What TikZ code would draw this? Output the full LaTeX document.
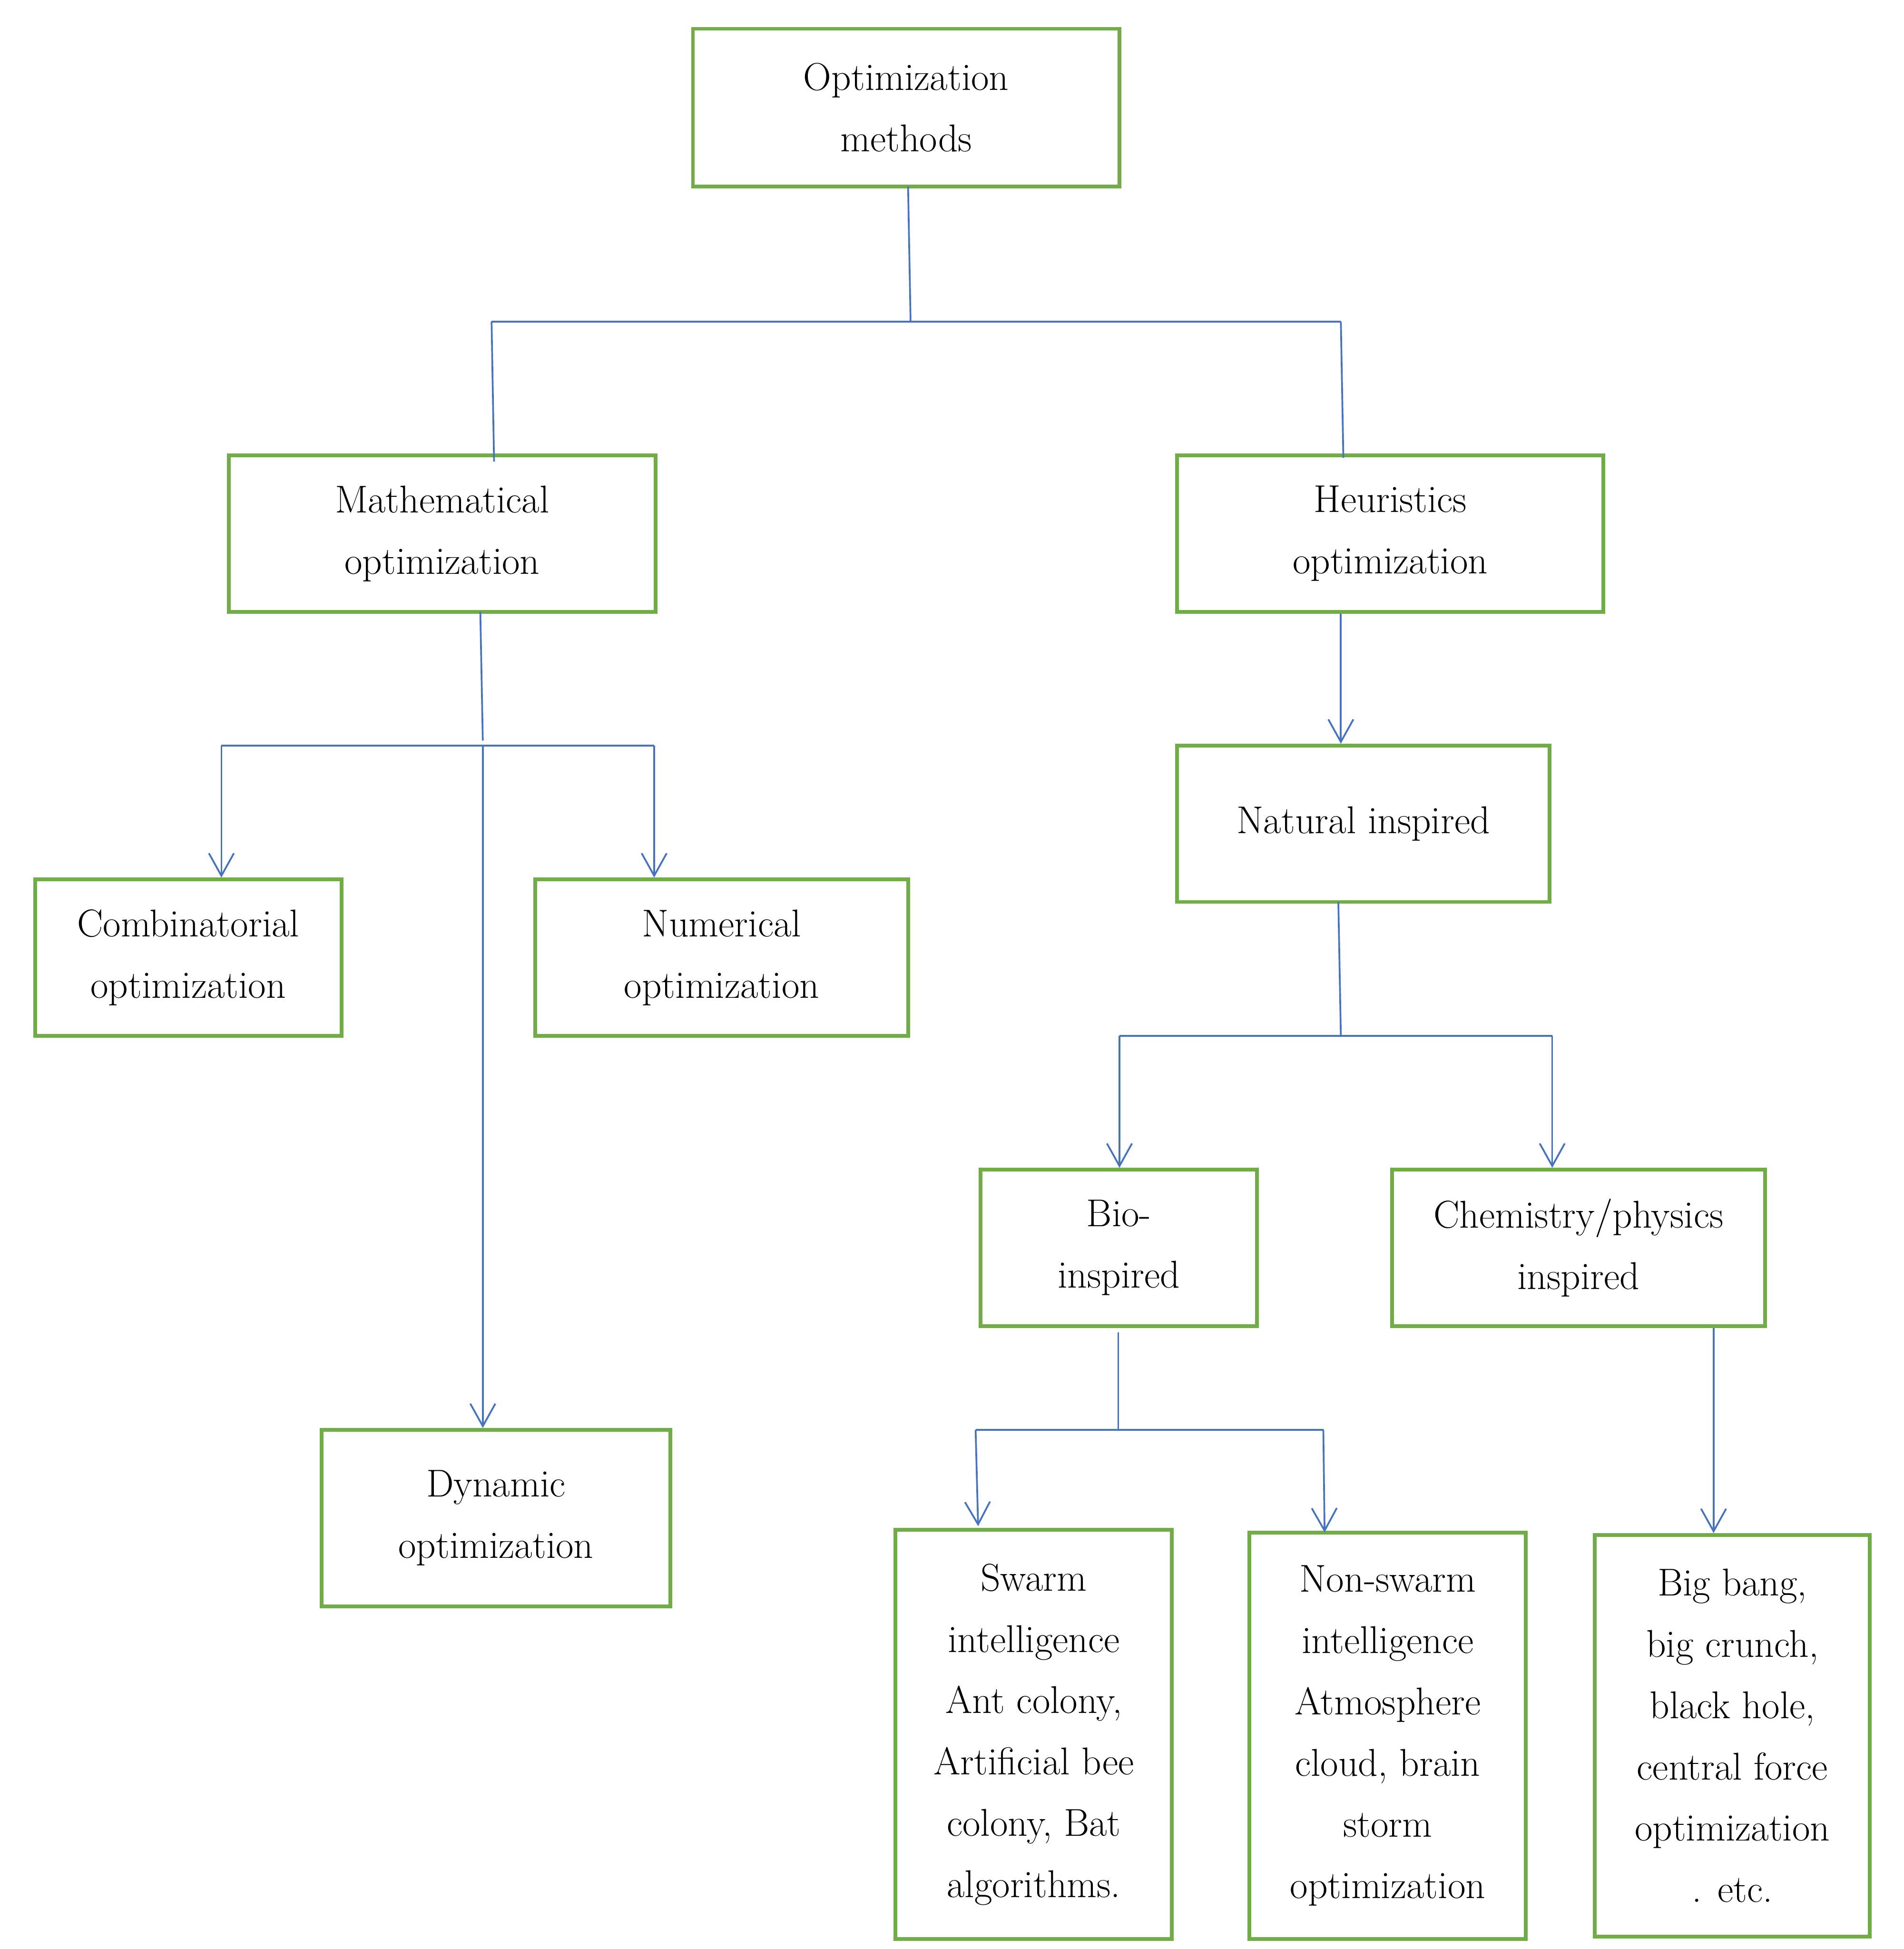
\documentclass[tikz,border=0pt]{standalone}
\usetikzlibrary{arrows.meta}
\begin{document}
\begin{tikzpicture}[x=0.5pt,y=-0.5pt,
  box/.style={draw=boxg,line width=1.5pt,align=center,inner sep=0pt,font=\fontsize{15.5}{24.5}\selectfont},
  ln/.style={draw=lnb,line width=0.7pt},
  ar/.style={ln,-{Straight Barb[length=9pt,width=10pt,line width=0.7pt]}}]
\definecolor{boxg}{HTML}{70AD47}
\definecolor{lnb}{HTML}{4472C4}
\useasboundingbox (0,0) rectangle (1522,1558);
\node[box,minimum width=341*0.5pt,minimum height=126*0.5pt] (top) at (724.5,86) {Optimization\\methods};
\node[box,minimum width=341*0.5pt,minimum height=125*0.5pt] (math) at (353.5,426.5) {Mathematical\\optimization};
\node[box,minimum width=341*0.5pt,minimum height=125*0.5pt] (heur) at (1111.5,426.5) {Heuristics\\optimization};
\node[box,minimum width=298*0.5pt,minimum height=125*0.5pt] (nat) at (1090,658.5) {Natural inspired};
\node[box,minimum width=245*0.5pt,minimum height=125*0.5pt] (comb) at (150.5,765.5) {Combinatorial\\optimization};
\node[box,minimum width=298*0.5pt,minimum height=125*0.5pt] (num) at (577,765.5) {Numerical\\optimization};
\node[box,minimum width=279*0.5pt,minimum height=141*0.5pt] (dyn) at (396.5,1213.5) {Dynamic\\optimization};
\node[box,minimum width=221*0.5pt,minimum height=125*0.5pt] (bio) at (894.5,997.5) {Bio-\\inspired};
\node[box,minimum width=298*0.5pt,minimum height=125*0.5pt] (chem) at (1262,997.5) {Chemistry/physics\\inspired};
\node[box,minimum width=221*0.5pt,minimum height=327*0.5pt] (sw) at (826.5,1386.5) {Swarm\\intelligence\\Ant colony,\\Artificial bee\\colony, Bat\\algorithms.};
\node[box,minimum width=221*0.5pt,minimum height=325*0.5pt] (nsw) at (1109.5,1387.5) {Non-swarm\\intelligence\\Atmosphere\\cloud, brain\\storm\\optimization};
\node[box,minimum width=220*0.5pt,minimum height=321*0.5pt] (big) at (1385,1387.5) {Big bang,\\big crunch,\\black hole,\\central force\\optimization\\. etc.};
% junctions
\coordinate (j0) at (728,257);
\coordinate (j0l) at (393,257);
\coordinate (j0r) at (1072,257);
\coordinate (m0) at (386,592);
\coordinate (m1) at (386,596);
\coordinate (ml) at (177,596);
\coordinate (mr) at (523,596);
\coordinate (n0) at (1072,828);
\coordinate (nl) at (895,828);
\coordinate (nr) at (1241,828);
\coordinate (b0) at (894,1143);
\coordinate (bl) at (780,1143);
\coordinate (br) at (1058,1143);
\draw[ln] (726,149) -- (j0);
\draw[ln] (j0l) -- (j0r);
\draw[ln] (j0l) -- (395,369);
\draw[ln] (j0r) -- (1074,366);
\draw[ar] (heur.south -| 1072,0) -- (nat.north -| 1072,0);
\draw[ln] (384,489) -- (m0);
\draw[ln] (ml) -- (mr);
\draw[ar] (ml) -- (comb.north -| ml);
\draw[ar] (mr) -- (num.north -| mr);
\draw[ar] (m1) -- (dyn.north -| m1);
\draw[ln] (1070,721) -- (n0);
\draw[ln] (nl) -- (nr);
\draw[ar] (nl) -- (bio.north -| nl);
\draw[ar] (nr) -- (chem.north -| nr);
\draw[ln] (894,1065) -- (b0);
\draw[ln] (bl) -- (br);
\draw[ar] (bl) -- (782,1220);
\draw[ar] (br) -- (1059,1225);
\draw[ar] (chem.south -| 1370,0) -- (big.north -| 1370,0);
\end{tikzpicture}
\end{document}
